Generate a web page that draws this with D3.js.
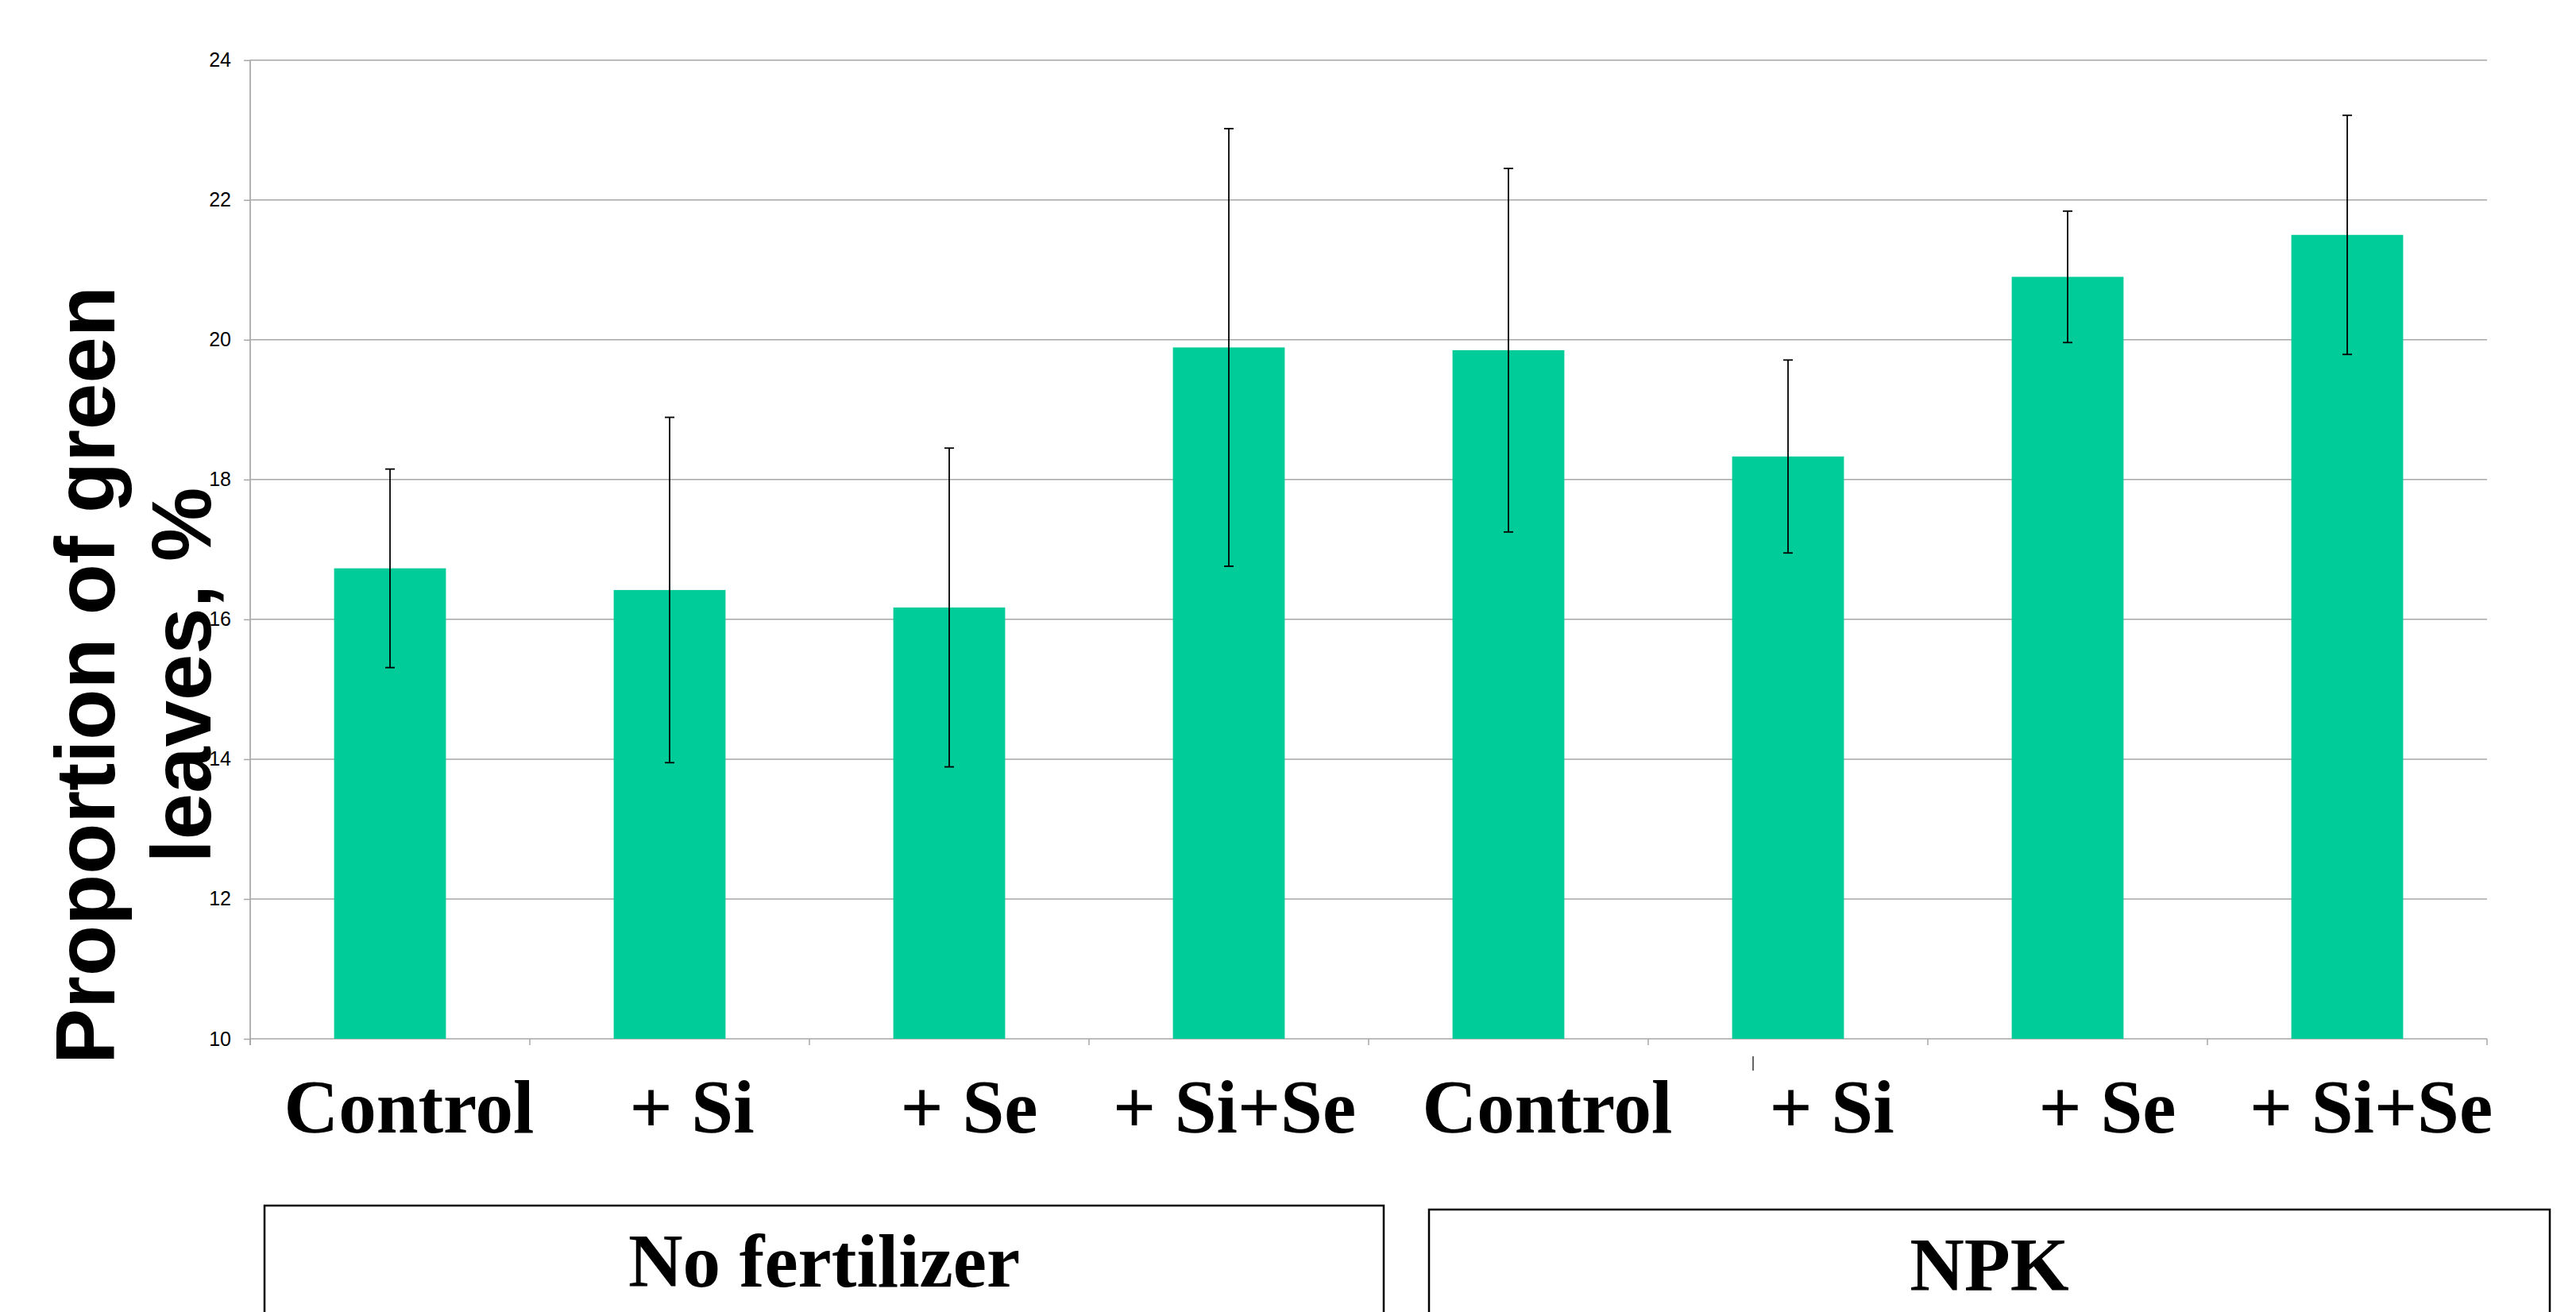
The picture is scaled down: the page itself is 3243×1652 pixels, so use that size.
<!DOCTYPE html>
<html>
<head>
<meta charset="utf-8">
<script src="https://cdn.jsdelivr.net/npm/d3@7"></script>
<style>
  html, body { margin: 0; padding: 0; background: #fff; }
  svg { display: block; }
</style>
</head>
<body>
<svg id="chart" width="3243" height="1652"></svg>
<script>
// ---------------- DATA ----------------
const categories = ["Control", "+ Si", "+ Se", "+ Si+Se", "Control", "+ Si", "+ Se", "+ Si+Se"];
const groupOf    = [0, 0, 0, 0, 1, 1, 1, 1];
const groups     = ["No fertilizer", "NPK"];
const means      = [16.73, 16.42, 16.17, 19.89, 19.85, 18.33, 20.90, 21.50];
const errors     = [1.42, 2.47, 2.28, 3.13, 2.60, 1.38, 0.94, 1.71];
const yTicks     = [10, 12, 14, 16, 18, 20, 22, 24];
const yTitle     = ["Proportion of green", "leaves, %"];

// ---------------- LAYOUT ----------------
const W = 3243, H = 1652;
const plot = { left: 315, right: 3131, top: 75.7, bottom: 1308 };
const barColor = "#00CC99";
const serif = "'Liberation Serif', 'Times New Roman', serif";
const sans = "'Liberation Sans', Arial, sans-serif";
const labelNudge = [24, 28, 25, 7, 49, 55, 50, 30];
const groupBoxes = [ { x0: 333, x1: 1742, y0: 1518, base: 1620 },
                     { x0: 1799, x1: 3210, y0: 1523, base: 1625 } ];

const svg = d3.select("#chart");

const idx = d3.range(categories.length);
const x = d3.scaleBand().domain(idx).range([plot.left, plot.right])
  .paddingInner(0.6).paddingOuter(0.3);
const y = d3.scaleLinear().domain([10, 24]).range([plot.bottom, plot.top]);

// gridlines
svg.append("g").selectAll("line")
  .data(yTicks.filter(t => t > 10))
  .join("line")
  .attr("x1", plot.left).attr("x2", plot.right)
  .attr("y1", d => y(d)).attr("y2", d => y(d))
  .attr("stroke", "#a6a6a6").attr("stroke-width", 1.5);

// y axis
const yAxis = svg.append("g")
  .attr("transform", `translate(${plot.left},0)`)
  .call(d3.axisLeft(y).tickValues(yTicks).tickSize(8).tickPadding(16).tickFormat(d3.format("d")));
yAxis.select(".domain").attr("stroke", "#b3b3b3").attr("stroke-width", 2)
  .attr("d", `M0,${plot.top}V${plot.bottom + 8}`);
yAxis.selectAll(".tick line").attr("stroke", "#a6a6a6").attr("stroke-width", 1.5);
yAxis.selectAll(".tick text").attr("font-family", sans).attr("font-size", 25).attr("fill", "#000");

// x axis line and boundary ticks
const step = x.step(), gap = (step - x.bandwidth()) / 2;
const bounds = idx.map(i => x(i) - gap).concat([x(idx.length - 1) + x.bandwidth() + gap]);
svg.append("line")
  .attr("x1", plot.left).attr("x2", plot.right)
  .attr("y1", y(10)).attr("y2", y(10))
  .attr("stroke", "#a6a6a6").attr("stroke-width", 1.5);
svg.append("g").selectAll("line").data(bounds).join("line")
  .attr("x1", d => d).attr("x2", d => d)
  .attr("y1", y(10)).attr("y2", y(10) + 8)
  .attr("stroke", "#a6a6a6").attr("stroke-width", 1.5);

// bars
svg.append("g").selectAll("rect").data(idx).join("rect")
  .attr("x", i => x(i)).attr("width", x.bandwidth())
  .attr("y", i => y(means[i])).attr("height", i => y(10) - y(means[i]))
  .attr("fill", barColor);

// error bars
const eb = svg.append("g").attr("stroke", "#000").attr("stroke-width", 1.8);
idx.forEach(i => {
  const cx = x(i) + x.bandwidth() / 2;
  const hi = y(means[i] + errors[i]), lo = y(means[i] - errors[i]);
  eb.append("line").attr("x1", cx).attr("x2", cx).attr("y1", hi).attr("y2", lo);
  eb.append("line").attr("x1", cx - 6).attr("x2", cx + 6).attr("y1", hi).attr("y2", hi);
  eb.append("line").attr("x1", cx - 6).attr("x2", cx + 6).attr("y1", lo).attr("y2", lo);
});

// category labels
svg.append("g").selectAll("text").data(idx).join("text")
  .attr("x", i => x(i) + x.bandwidth() / 2 + labelNudge[i])
  .attr("y", 1426)
  .attr("text-anchor", "middle")
  .attr("font-family", serif).attr("font-weight", "bold").attr("font-size", 95)
  .attr("fill", "#000")
  .text(i => categories[i]);

// small stray mark
svg.append("line").attr("x1", 2207).attr("x2", 2207).attr("y1", 1330).attr("y2", 1348)
  .attr("stroke", "#333").attr("stroke-width", 1.5);

// group boxes
groups.forEach((g, k) => {
  const b = groupBoxes[k];
  svg.append("path")
    .attr("d", `M${b.x0},${H + 10}V${b.y0}H${b.x1}V${H + 10}`)
    .attr("fill", "none").attr("stroke", "#000").attr("stroke-width", 2.5);
  svg.append("text")
    .attr("x", (b.x0 + b.x1) / 2).attr("y", b.base)
    .attr("text-anchor", "middle")
    .attr("font-family", serif).attr("font-weight", "bold").attr("font-size", 95)
    .attr("fill", "#000")
    .text(g);
});

// y title
const tt = svg.append("g").attr("transform", "translate(144,850) rotate(-90)");
yTitle.forEach((line, k) => {
  tt.append("text")
    .attr("x", 0).attr("y", k * 121)
    .attr("text-anchor", "middle")
    .attr("font-family", sans).attr("font-weight", "bold").attr("font-size", 105)
    .attr("fill", "#000")
    .text(line);
});
</script>
</body>
</html>
